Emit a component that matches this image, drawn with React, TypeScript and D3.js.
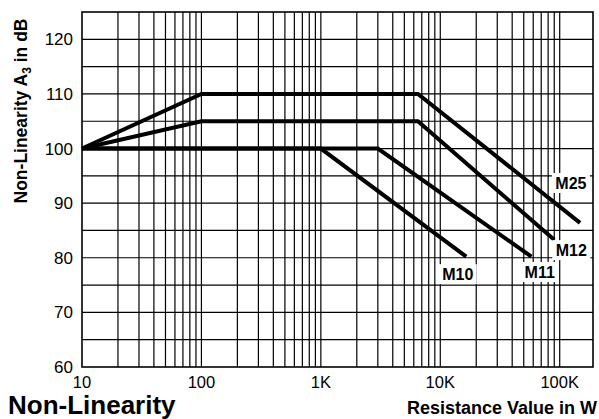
import React from "react";
import * as d3 from "d3";

// ---- data ----
const xTickValues = [10, 100, 1000, 10000, 100000];
const xTickLabels = ["10", "100", "1K", "10K", "100K"];
const yTickValues = [60, 70, 80, 90, 100, 110, 120];

const seriesNames = ["M25", "M12", "M11", "M10"];
const m25X = [10, 100, 6500, 148000];
const m25Y = [100, 110, 110, 86.4];
const m12X = [10, 100, 6500, 90000];
const m12Y = [100, 105, 105, 83.3];
const m11X = [10, 3000, 58000];
const m11Y = [100, 100, 80.2];
const m10X = [10, 1000, 16500];
const m10Y = [100, 100, 80.2];

// label anchors in data units (x resistance, y dB at baseline)
const labelX = [124000, 125000, 68000, 14000];
const labelY = [92.6, 80.3, 76.3, 75.9];

const title = "Non-Linearity";
const xTitle = "Resistance Value in W";

const W = 599;
const H = 419;
const left = 82;
const right = 593;
const top = 12;
const bottom = 367;
const FONT = "'Liberation Sans', Arial, Helvetica, sans-serif";

export default function App() {
  const x = d3.scaleLog().domain([10, 190000]).range([left, right]);
  const y = d3.scaleLinear().domain([60, 125]).range([bottom, top]);

  const vGrid: number[] = [];
  for (let dec = 10; dec <= 100000; dec *= 10) {
    for (let k = 1; k <= 9; k++) {
      const v = dec * k;
      if (v > 10 && v < 190000) vGrid.push(v);
    }
  }
  const hGrid = d3.range(65, 125, 5);

  const series = [
    { name: seriesNames[0], xs: m25X, ys: m25Y },
    { name: seriesNames[1], xs: m12X, ys: m12Y },
    { name: seriesNames[2], xs: m11X, ys: m11Y },
    { name: seriesNames[3], xs: m10X, ys: m10Y },
  ];
  const line = d3
    .line<[number, number]>()
    .x((d) => x(d[0]))
    .y((d) => y(d[1]));

  return (
    <div style={{ position: "absolute", left: 0, top: 0 }}>
      <svg width={W} height={H} style={{ display: "block", background: "#fff" }}>
        <rect x={0} y={0} width={W} height={H} fill="#fff" />
        {vGrid.map((v) => (
          <line key={"v" + v} x1={x(v)} x2={x(v)} y1={top} y2={bottom} stroke="#000" strokeWidth={1.2} />
        ))}
        {hGrid.map((v) => (
          <line key={"h" + v} x1={left} x2={right} y1={y(v)} y2={y(v)} stroke="#000" strokeWidth={1.2} />
        ))}
        <rect x={left} y={top} width={right - left} height={bottom - top} fill="none" stroke="#000" strokeWidth={1.6} />

        {series.map((s) => (
          <path
            key={s.name}
            d={line(s.xs.map((v, i) => [v, s.ys[i]] as [number, number])) || ""}
            fill="none"
            stroke="#000"
            strokeWidth={4}
          />
        ))}

        {series.map((s, i) => {
          const cx = x(labelX[i]);
          const by = y(labelY[i]);
          return (
            <g key={"l" + s.name}>
              <rect x={cx - 19} y={by - 16} width={38} height={20} fill="#fff" />
              <text x={cx} y={by} textAnchor="middle" fontFamily={FONT} fontWeight="bold" fontSize={16} fill="#000">
                {s.name}
              </text>
            </g>
          );
        })}

        {yTickValues.map((v) => (
          <text key={"yt" + v} x={73} y={y(v) + 6} textAnchor="end" fontFamily={FONT} fontSize={17} fill="#000">
            {v}
          </text>
        ))}
        {xTickValues.map((v, i) => (
          <text key={"xt" + v} x={x(v)} y={388} textAnchor="middle" fontFamily={FONT} fontSize={16.5} fill="#000">
            {xTickLabels[i]}
          </text>
        ))}

        <text
          transform={`translate(27, 111) rotate(-90)`}
          textAnchor="middle"
          fontFamily={FONT}
          fontWeight="bold"
          fontSize={17.5}
          fill="#000"
        >
          Non-Linearity A
          <tspan fontSize={12} dy={4}>3</tspan>
          <tspan dy={-4}> in dB</tspan>
        </text>

        <text x={8} y={414} fontFamily={FONT} fontWeight="bold" fontSize={26} fill="#000">
          {title}
        </text>
        <text x={597} y={414} textAnchor="end" fontFamily={FONT} fontWeight="bold" fontSize={18} fill="#000">
          {xTitle}
        </text>
      </svg>
    </div>
  );
}
